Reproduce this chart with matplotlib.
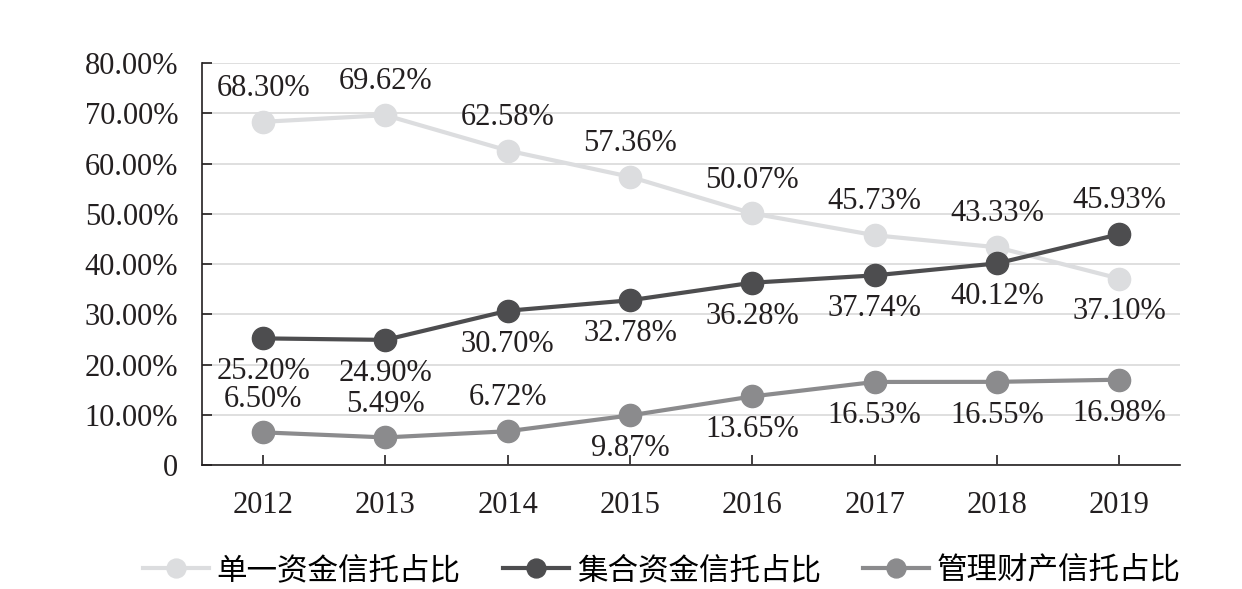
import matplotlib.pyplot as plt
import numpy as np

plt.rcParams['font.family'] = ['Liberation Serif', 'Noto Sans CJK SC']

years = ['2012', '2013', '2014', '2015', '2016', '2017', '2018', '2019']
single = [68.30, 69.62, 62.58, 57.36, 50.07, 45.73, 43.33, 37.10]
collective = [25.20, 24.90, 30.70, 32.78, 36.28, 37.74, 40.12, 45.93]
property_mgmt = [6.50, 5.49, 6.72, 9.87, 13.65, 16.53, 16.55, 16.98]
names = ['单一资金信托占比', '集合资金信托占比', '管理财产信托占比']
yticklabels = ['0', '10.00%', '20.00%', '30.00%', '40.00%', '50.00%', '60.00%', '70.00%', '80.00%']

# 标签位置：1 在上方，-1 在下方
pos_single = [1, 1, 1, 1, 1, 1, 1, -1]
pos_collective = [-1, -1, -1, -1, -1, -1, -1, 1]
pos_property = [1, 1, 1, -1, -1, -1, -1, -1]

colors = ['#dcdddf', '#4d4d4f', '#8b8b8d']

fig = plt.figure(figsize=(12.42, 5.89), dpi=100)
ax = fig.add_axes([0.1626, 0.2105, 0.7878, 0.6825])
x = np.arange(len(years))

for vals, pos, name, c in zip([single, collective, property_mgmt],
                              [pos_single, pos_collective, pos_property],
                              names, colors):
    ax.plot(x, vals, color=c, linewidth=3, marker='o', markersize=16, label=name, zorder=3)
    for xi, v, p in zip(x, vals, pos):
        ax.annotate('%.2f%%' % v, (xi, v), xytext=(0, 24 * p), textcoords='offset points',
                    ha='center', va='center', fontsize=22, color='#231f20', zorder=4)

ax.set_xlim(-0.5, 7.5)
ax.set_ylim(0, 80)
ax.set_xticks(x)
ax.set_xticklabels(years, fontsize=22)
ax.set_yticks(np.arange(0, 81, 10))
ax.set_yticklabels(yticklabels, fontsize=22)
ax.tick_params(axis='both', direction='in', length=7, width=1.2, color='#231f20',
               labelcolor='#231f20')
ax.tick_params(axis='x', pad=19)
ax.tick_params(axis='y', pad=17)
ax.grid(axis='y', color='#d9d9d9', linewidth=1.2)
ax.set_axisbelow(True)
ax.spines['top'].set_visible(False)
ax.spines['right'].set_visible(False)
ax.spines['left'].set_color('#231f20')
ax.spines['bottom'].set_color('#231f20')
ax.spines['left'].set_linewidth(1.2)
ax.spines['bottom'].set_linewidth(1.2)

fig.legend(*ax.get_legend_handles_labels(), loc='center', bbox_to_anchor=(0.533, 0.03),
           ncol=3, frameon=False, fontsize=22, handlelength=2.15, columnspacing=1.4,
           handletextpad=0.25, markerscale=0.85, borderpad=0)

fig.savefig('out.png', dpi=100)
